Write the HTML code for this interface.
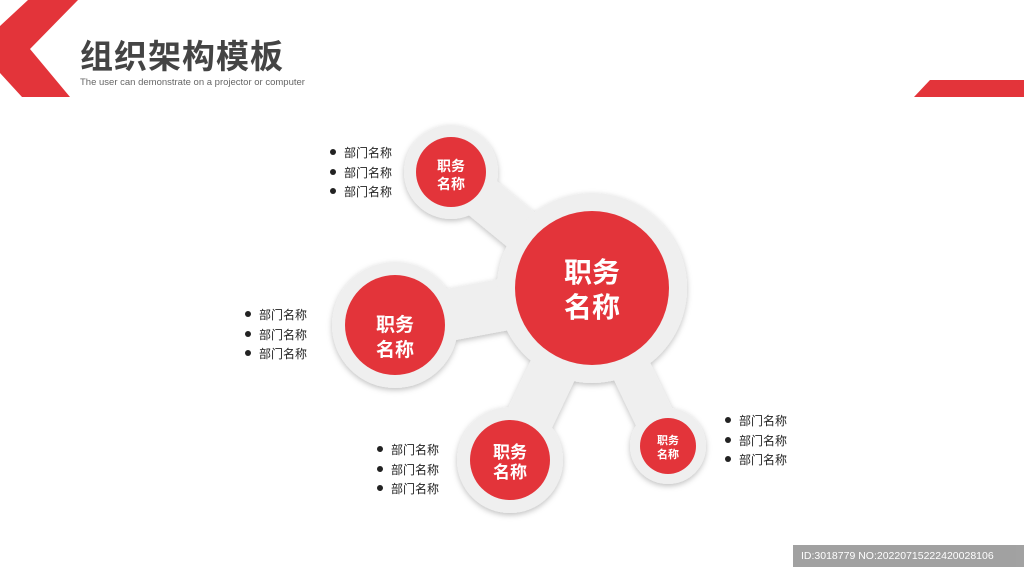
<!DOCTYPE html>
<html><head><meta charset="utf-8"><style>
body{margin:0;width:1024px;height:576px;background:#fff;position:relative;overflow:hidden;font-family:"Liberation Sans","Noto Sans CJK SC",sans-serif}
.t{position:absolute;left:80px;top:30px;font-size:33px;font-weight:bold;color:#444;letter-spacing:1px}
.s{position:absolute;left:80px;top:77px;font-size:9.5px;color:#666}
.l{position:absolute;font-size:12px;color:#222;line-height:19.5px}
.l div:before{content:"";display:inline-block;width:6px;height:6px;border-radius:50%;background:#222;margin-right:8px;vertical-align:2px}
.wm{position:absolute;left:793px;top:545px;width:231px;height:22px;background:#555;opacity:.55;color:#fff;font-size:10.5px;line-height:22px;padding-left:8px;box-sizing:border-box}
</style></head><body>
<svg width="1024" height="576" style="position:absolute;left:0;top:0">
<defs><filter id="sh" x="-20%" y="-20%" width="140%" height="140%"><feDropShadow dx="0" dy="2" stdDeviation="3" flood-color="#000" flood-opacity=".25"/></filter></defs>
<polygon points="28,0 78,0 30,49 70,97 22,97 0,73 0,26" fill="#e3343a"/>
<polygon points="930,80 1024,80 1024,97 914,97" fill="#e3343a"/>
<g filter="url(#sh)" fill="#efefef" stroke="#efefef" stroke-linecap="round">
<line x1="592" y1="288" x2="451" y2="172" stroke-width="44"/>
<line x1="592" y1="288" x2="395" y2="325" stroke-width="52"/>
<line x1="592" y1="288" x2="510" y2="460" stroke-width="48"/>
<line x1="592" y1="288" x2="668" y2="446" stroke-width="40"/>
<circle cx="592" cy="288" r="95" stroke="none"/>
<circle cx="451" cy="172" r="47" stroke="none"/>
<circle cx="395" cy="325" r="63" stroke="none"/>
<circle cx="510" cy="460" r="53" stroke="none"/>
<circle cx="668" cy="446" r="38" stroke="none"/>
</g>
<g fill="#e3343a">
<circle cx="592" cy="288" r="77"/><circle cx="451" cy="172" r="35"/><circle cx="395" cy="325" r="50"/><circle cx="510" cy="460" r="40"/><circle cx="668" cy="446" r="28"/>
</g>
<g fill="#fff" font-weight="bold" text-anchor="middle" font-family="Liberation Sans,Noto Sans CJK SC,sans-serif">
<text x="592" y="282" font-size="28">职务</text><text x="592" y="317" font-size="28">名称</text>
<text x="451" y="171" font-size="14">职务</text><text x="451" y="189" font-size="14">名称</text>
<text x="395" y="331" font-size="19">职务</text><text x="395" y="356" font-size="19">名称</text>
<text x="510" y="458" font-size="17">职务</text><text x="510" y="478" font-size="17">名称</text>
<text x="668" y="444" font-size="11">职务</text><text x="668" y="458" font-size="11">名称</text>
</g>
</svg>
<div class="t">组织架构模板</div>
<div class="s">The user can demonstrate on a projector or computer</div>
<div class="l" style="left:330px;top:144px"><div>部门名称</div><div>部门名称</div><div>部门名称</div></div>
<div class="l" style="left:245px;top:306px"><div>部门名称</div><div>部门名称</div><div>部门名称</div></div>
<div class="l" style="left:377px;top:441px"><div>部门名称</div><div>部门名称</div><div>部门名称</div></div>
<div class="l" style="left:725px;top:412px"><div>部门名称</div><div>部门名称</div><div>部门名称</div></div>
<div class="wm">ID:3018779 NO:20220715222420028106</div>
</body></html>
